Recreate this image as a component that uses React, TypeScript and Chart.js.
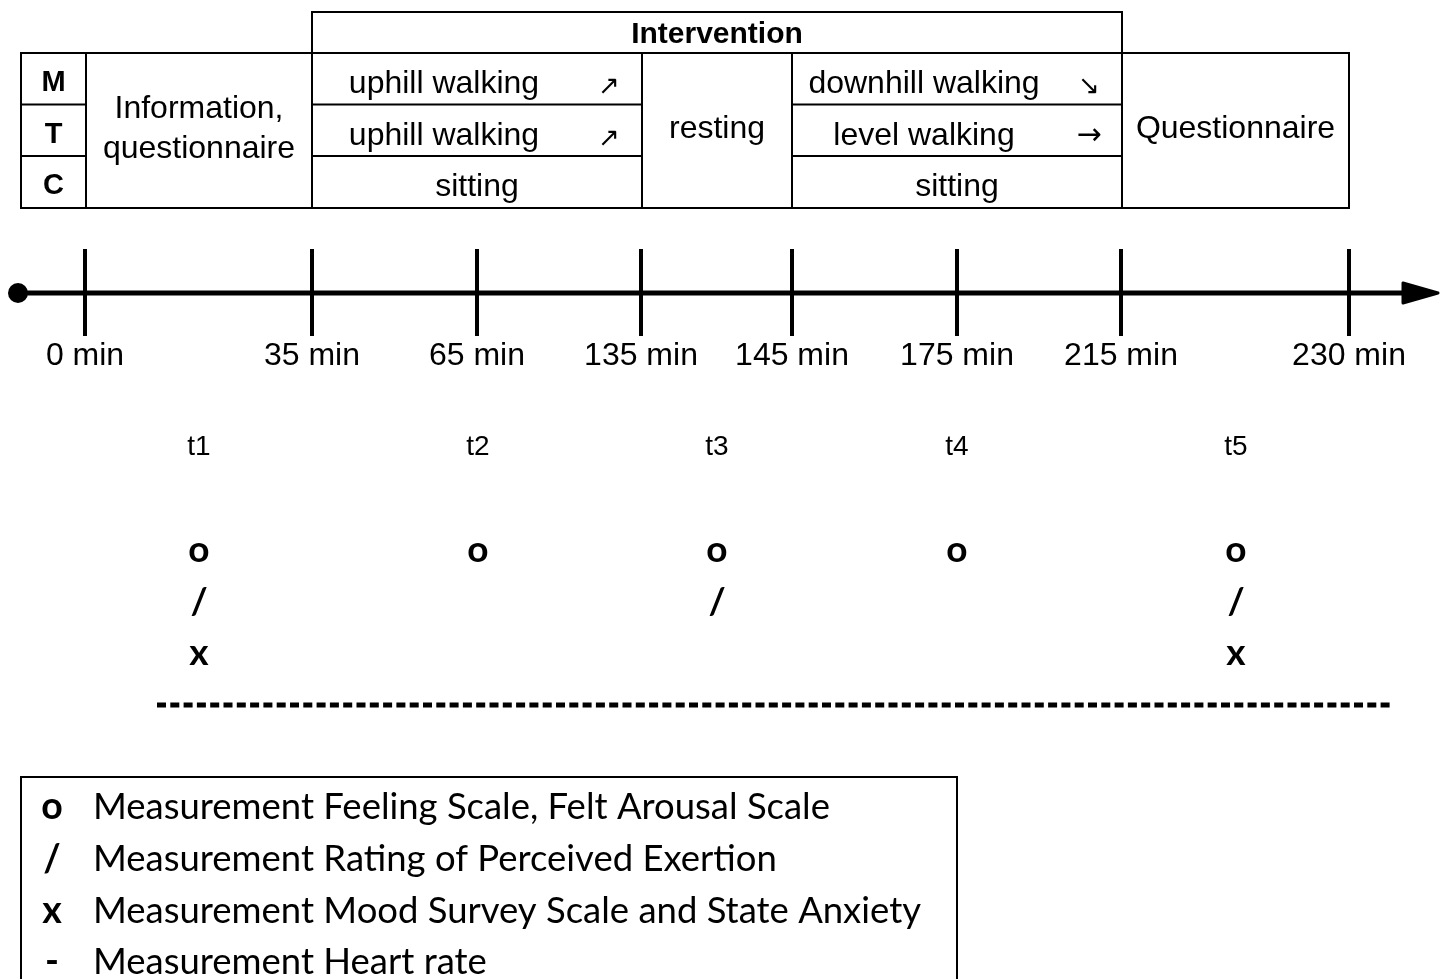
import React, { useEffect, useRef } from 'react';
import { Chart, registerables } from 'chart.js';
Chart.register(...registerables);

const W = 1445;
const H = 979;

// ---- Timeline data ----
const timeLabels = ['0 min', '35 min', '65 min', '135 min', '145 min', '175 min', '215 min', '230 min'];
const timePos = [85, 312, 477, 641, 792, 957, 1121, 1349];

// ---- Measurement points ----
const measureLabels = ['t1', 't2', 't3', 't4', 't5'];
const measurePos = [199, 478, 717, 957, 1236];
const feelingArousal = [1, 1, 1, 1, 1];
const exertionRating = [1, 0, 1, 0, 1];
const moodAnxiety = [1, 0, 0, 0, 1];
const heartRateSpan = [157, 1392];

// ---- Table data ----
const groups = ['M', 'T', 'C'];
const phaseEdges = [21, 86, 312, 642, 792, 1122, 1349];
const rowEdges = [53, 104.5, 156, 208];
const interventionLabel = 'Intervention';
const phaseInfo = ['Information,', 'questionnaire'];
const phaseUphill = ['uphill walking', 'uphill walking', 'sitting'];
const phaseUphillArrows = ['\u2197', '\u2197', ''];
const phaseRest = 'resting';
const phaseDownhill = ['downhill walking', 'level walking', 'sitting'];
const phaseDownhillArrows = ['\u2198', '\u2192', ''];
const phaseFinal = 'Questionnaire';

// ---- Legend ----
const legendSymbols = ['o', '/', 'x', '-'];
const legendTexts = [
  'Measurement Feeling Scale, Felt Arousal Scale',
  'Measurement Rating of Perceived Exertion',
  'Measurement Mood Survey Scale and State Anxiety',
  'Measurement Heart rate',
];

const ARIAL = "'Liberation Sans', Arial, sans-serif";
const CAL = "Lato, 'Open Sans', sans-serif";

export default function App() {
  const ref = useRef<HTMLCanvasElement | null>(null);

  useEffect(() => {
    document.body.style.margin = '0';
    const canvas = ref.current!;
    const axisY = 293;

    const diagramPlugin = {
      id: 'diagram',
      afterDraw(chart: any) {
        const ctx: CanvasRenderingContext2D = chart.ctx;
        const xs = chart.scales.x;
        const ys = chart.scales.y;
        const px = (v: number) => xs.getPixelForValue(v);
        const py = (v: number) => ys.getPixelForValue(v);
        ctx.save();
        ctx.fillStyle = '#000';
        ctx.strokeStyle = '#000';

        const line = (x1: number, y1: number, x2: number, y2: number, w: number) => {
          ctx.lineWidth = w;
          ctx.beginPath();
          ctx.moveTo(px(x1), py(y1));
          ctx.lineTo(px(x2), py(y2));
          ctx.stroke();
        };
        const text = (s: string, x: number, y: number, font: string, align: CanvasTextAlign = 'center') => {
          ctx.font = font;
          ctx.textAlign = align;
          ctx.textBaseline = 'alphabetic';
          ctx.fillText(s, px(x), py(y));
        };

        // ---- Table ----
        const top = rowEdges[0];
        const bottom = rowEdges[rowEdges.length - 1];
        const left = phaseEdges[0];
        const right = phaseEdges[phaseEdges.length - 1];
        ctx.lineCap = 'square';
        const intTop = 12;
        line(phaseEdges[2], intTop, phaseEdges[5], intTop, 2);
        line(phaseEdges[2], intTop, phaseEdges[2], top, 2);
        line(phaseEdges[5], intTop, phaseEdges[5], top, 2);
        text(interventionLabel, (phaseEdges[2] + phaseEdges[5]) / 2, 43, `bold 30px ${ARIAL}`);
        line(left, top, right, top, 2);
        line(left, bottom, right, bottom, 2);
        phaseEdges.forEach((e) => line(e, top, e, bottom, 2));
        [0, 2, 4].forEach((c) => {
          for (let r = 1; r < rowEdges.length - 1; r++) {
            line(phaseEdges[c], rowEdges[r], phaseEdges[c + 1], rowEdges[r], 2);
          }
        });
        const rowBase = [93, 145, 196];
        const groupBase = [91, 143, 194];
        groups.forEach((g, i) => text(g, (phaseEdges[0] + phaseEdges[1]) / 2, groupBase[i], `bold 29px ${ARIAL}`));
        const c1 = (phaseEdges[1] + phaseEdges[2]) / 2;
        text(phaseInfo[0], c1, 118, `32px ${ARIAL}`);
        text(phaseInfo[1], c1, 158, `32px ${ARIAL}`);
        const drawSplit = (col: number, labels: string[], arrows: string[]) => {
          const cx = (phaseEdges[col] + phaseEdges[col + 1]) / 2;
          labels.forEach((l, i) => {
            if (arrows[i]) {
              text(l, cx - 33, rowBase[i], `32px ${ARIAL}`);
              const ax = phaseEdges[col + 1] - 33;
              if (arrows[i] === '\u2192') {
                text(arrows[i], ax, rowBase[i] - 1, `30px 'DejaVu Sans', ${ARIAL}`);
              } else {
                text(arrows[i], ax, rowBase[i] + 1, `26px 'DejaVu Sans', ${ARIAL}`);
              }
            } else {
              text(l, cx, rowBase[i], `32px ${ARIAL}`);
            }
          });
        };
        drawSplit(2, phaseUphill, phaseUphillArrows);
        drawSplit(4, phaseDownhill, phaseDownhillArrows);
        text(phaseRest, (phaseEdges[3] + phaseEdges[4]) / 2, 138, `32px ${ARIAL}`);
        text(phaseFinal, (phaseEdges[5] + phaseEdges[6]) / 2, 138, `32px ${ARIAL}`);

        // ---- Arrow head ----
        ctx.lineJoin = 'round';
        ctx.lineWidth = 3;
        ctx.beginPath();
        ctx.moveTo(px(1438), py(axisY));
        ctx.lineTo(px(1403), py(axisY - 10));
        ctx.lineTo(px(1403), py(axisY + 10));
        ctx.closePath();
        ctx.fill();
        ctx.stroke();

        // ---- Tick labels ----
        timeLabels.forEach((l, i) => text(l, timePos[i], 365, `32px ${ARIAL}`));
        // ---- Measurement labels ----
        measureLabels.forEach((l, i) => text(l, measurePos[i], 455, `28px ${ARIAL}`));
        const markFont = `bold 37px ${CAL}`;
        measurePos.forEach((x, i) => {
          if (feelingArousal[i]) text('o', x, 562, markFont);
          if (exertionRating[i]) text('/', x, 614, markFont);
          if (moodAnxiety[i]) text('x', x, 665, markFont);
        });
        ctx.setLineDash([9, 4.3]);
        ctx.lineCap = 'butt';
        line(heartRateSpan[0], 705, heartRateSpan[1], 705, 5);
        ctx.setLineDash([]);

        // ---- Legend ----
        ctx.lineCap = 'square';
        const lTop = 777;
        const lRight = 957;
        line(21, lTop, lRight, lTop, 2);
        line(21, lTop, 21, 990, 2);
        line(lRight, lTop, lRight, 990, 2);
        ctx.font = `36px ${CAL}`;
        const wMeasured = ctx.measureText(legendTexts[0]).width;
        const size = (36 * 737) / wMeasured;
        const legendBase = [819, 871, 923, 974];
        legendTexts.forEach((t, i) => {
          text(legendSymbols[i], 52, legendBase[i], `bold ${size + 1}px ${CAL}`);
          text(t, 93, legendBase[i], `${size}px ${CAL}`, 'left');
        });
        ctx.restore();
      },
    };

    const chart = new Chart(canvas, {
      type: 'scatter',
      data: {
        datasets: [
          {
            type: 'line',
            data: [
              { x: 18, y: axisY },
              { x: 1405, y: axisY },
            ],
            borderColor: '#000',
            backgroundColor: '#000',
            borderWidth: 5,
            pointRadius: [10, 0],
            pointBorderWidth: 0,
            pointBackgroundColor: '#000',
            clip: false,
          } as any,
          {
            data: timePos.map((x) => ({ x, y: axisY - 0.5 })),
            pointStyle: 'line',
            rotation: 90,
            pointRadius: 43.5,
            borderColor: '#000',
            borderWidth: 4,
            clip: false,
          } as any,
        ],
      },
      options: {
        responsive: false,
        animation: false,
        events: [],
        layout: { padding: 0, autoPadding: false } as any,
        plugins: { legend: { display: false }, tooltip: { enabled: false } },
        scales: {
          x: { type: 'linear', min: 0, max: W, display: false },
          y: { type: 'linear', min: 0, max: H, reverse: true, display: false },
        },
      },
      plugins: [diagramPlugin],
    });
    return () => chart.destroy();
  }, []);

  return (
    <div style={{ width: W, height: H, background: '#fff' }}>
      <canvas ref={ref} width={W} height={H} style={{ display: 'block', width: W, height: H }} />
    </div>
  );
}
